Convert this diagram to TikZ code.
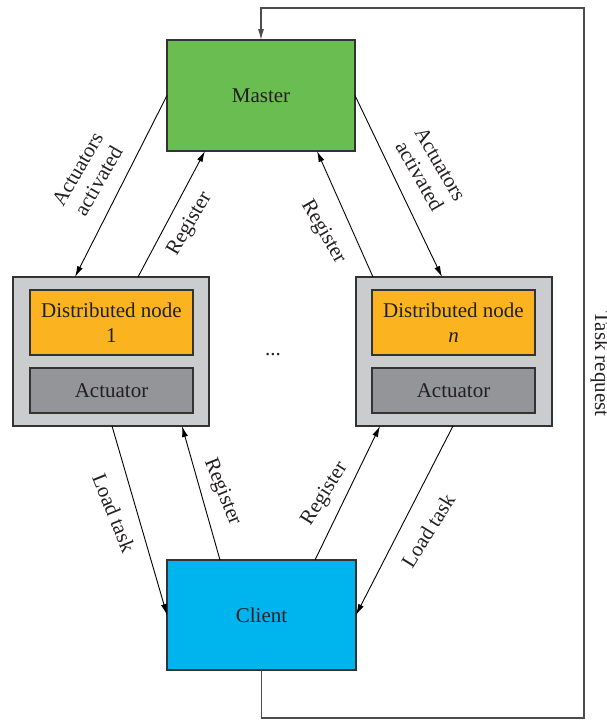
\documentclass[tikz,border=0pt]{standalone}
\usepackage{fontspec}
\setmainfont{Liberation Serif}
\usetikzlibrary{arrows.meta,calc}
\definecolor{mgreen}{HTML}{6ABD50}
\definecolor{cblue}{HTML}{00B4EE}
\definecolor{dorange}{HTML}{FBB31F}
\definecolor{ogray}{HTML}{CBCCCE}
\definecolor{agray}{HTML}{939598}
\definecolor{edge}{HTML}{333333}
\definecolor{txt}{HTML}{231F20}
\tikzset{
  box/.style={draw=edge, line width=1.2pt, inner sep=2pt, outer sep=0pt, align=center,
    font=\fontsize{21}{25}\selectfont, text=txt},
  conn/.style={draw=black, line width=0.9pt, -{Latex[length=11pt,width=6pt]}},
  lbl/.style={font=\fontsize{21}{24}\selectfont, text=txt, align=center, inner sep=0pt},
  loopline/.style={draw=black!70, line width=1.2pt, -{Latex[length=11pt,width=6pt]}}
}
\begin{document}
\begin{tikzpicture}[x=1pt,y=-1pt]
\useasboundingbox (0,0) rectangle (607,720);
% boxes
\node[box, fill=mgreen, minimum width=188pt, minimum height=111pt] (master) at (261,95.5) {Master};
\node[box, fill=cblue, minimum width=189pt, minimum height=110pt] (client) at (261.5,615) {Client};
\node[box, fill=ogray, minimum width=196pt, minimum height=149pt] (out1) at (111,351.5) {};
\node[box, fill=dorange, minimum width=163pt, minimum height=65pt] (dn1) at (111.5,322.5) {Distributed node\\1};
\node[box, fill=agray, minimum width=163pt, minimum height=45pt] (act1) at (111.5,390.5) {Actuator};
\node[box, fill=ogray, minimum width=196pt, minimum height=149pt] (outn) at (454,351.5) {};
\node[box, fill=dorange, minimum width=163pt, minimum height=65pt] (dnn) at (453.5,322.5) {Distributed node\\\textit{n}};
\node[box, fill=agray, minimum width=163pt, minimum height=45pt] (actn) at (453.5,390.5) {Actuator};
\node[lbl, anchor=base] (dots) at (273,355) {...};
% connectors
\draw[conn] (master.west) -- ([xshift=-36pt]out1.north);
\draw[conn] ([xshift=27pt]out1.north) -- ([xshift=-56pt]master.south);
\draw[conn] ([xshift=-81pt]outn.north) -- ([xshift=56pt]master.south);
\draw[conn] (master.east) -- ([xshift=-12pt]outn.north);
\draw[conn] ([xshift=1pt]out1.south) -- (client.west);
\draw[conn] ([xshift=-41.5pt]client.north) -- ([xshift=71pt]out1.south);
\draw[conn] ([xshift=53.5pt]client.north) -- ([xshift=-74pt]outn.south);
\draw[conn] ([xshift=-1pt]outn.south) -- (client.east);
% task request loop
\coordinate (br) at (584,718);
\coordinate (tr) at (584,8);
\draw[loopline] (client.south) |- (br) -- (tr) -| (master.north);
% labels
\node[lbl, rotate=60] (l1) at (88,175) {Actuators\\activated};
\node[lbl, rotate=60] (l2) at (190,224) {Register};
\node[lbl, rotate=-60] (l3) at (323,232) {Register};
\node[lbl, rotate=-60] (l4) at (430,170) {Actuators\\activated};
\node[lbl, rotate=-68] (l5) at (114,513) {Load task};
\node[lbl, rotate=-68] (l6) at (222,492) {Register};
\node[lbl, rotate=58] (l7) at (325,494) {Register};
\node[lbl, rotate=58] (l8) at (428,531) {Load task};
\node[lbl, rotate=-90, anchor=base] (tr-l) at (595,364) {Task request};
\end{tikzpicture}
\end{document}
